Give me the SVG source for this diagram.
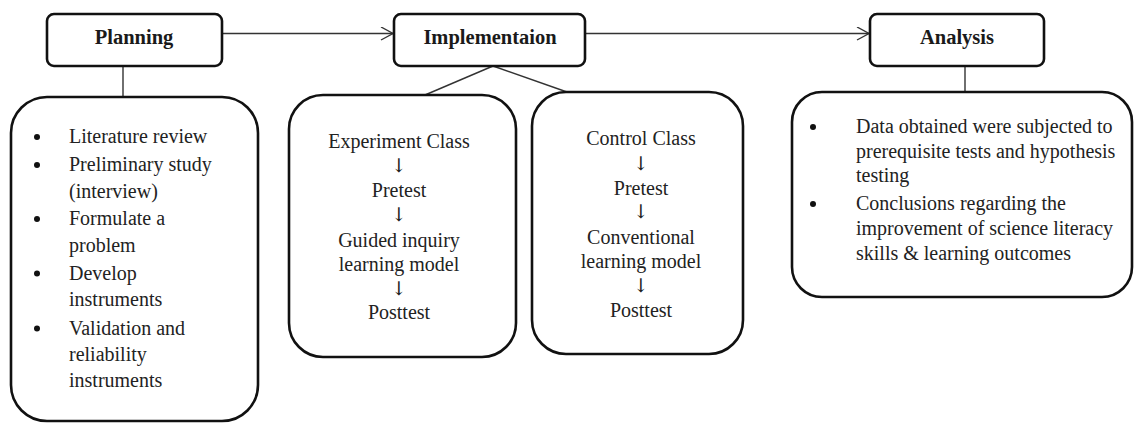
<svg xmlns="http://www.w3.org/2000/svg" width="1135" height="423" viewBox="0 0 1135 423">
  <style>
    .head { fill: #fff; stroke: #111; stroke-width: 2.6; }
    .panel { fill: #fff; stroke: #111; stroke-width: 2.6; }
    .link { fill: none; stroke: #333; stroke-width: 1.4; }
    .title { font-family: "Liberation Serif", "Times New Roman", serif; font-size: 20.5px; font-weight: bold; fill: #1a1a1a; text-anchor: middle; }
    .body { font-family: "Liberation Serif", "Times New Roman", serif; font-size: 20px; fill: #222; }
    .mid { text-anchor: middle; }
    .down { font-family: "DejaVu Serif", "DejaVu Sans", serif; font-size: 19px; fill: #222; text-anchor: middle; }
    .dot { fill: #111; }
  </style>
  <defs>
    <marker id="open" markerWidth="16" markerHeight="16" refX="13" refY="7" orient="auto" markerUnits="userSpaceOnUse">
      <path d="M1,0.5 L13,7 L1,13.5" fill="none" stroke="#333" stroke-width="1.4"/>
    </marker>
  </defs>

  <!-- connectors -->
  <g id="connectors">
    <line class="link" x1="222" y1="33.5" x2="393" y2="33.5" marker-end="url(#open)"/>
    <line class="link" x1="585" y1="33.5" x2="869" y2="33.5" marker-end="url(#open)"/>
    <line class="link" x1="123" y1="66" x2="123" y2="97"/>
    <line class="link" x1="965" y1="66" x2="965" y2="92"/>
    <line class="link" x1="493" y1="66" x2="425" y2="95"/>
    <line class="link" x1="493" y1="66" x2="567" y2="92"/>
  </g>

  <!-- stage headers -->
  <g id="planning">
    <rect class="head" x="47" y="14" width="175" height="52" rx="7"/>
    <text class="title" x="134" y="44">Planning</text>
  </g>
  <g id="implementation">
    <rect class="head" x="394" y="14" width="191" height="52" rx="7"/>
    <text class="title" x="490" y="44">Implementaion</text>
  </g>
  <g id="analysis">
    <rect class="head" x="870" y="14" width="174" height="52" rx="7"/>
    <text class="title" x="957" y="44">Analysis</text>
  </g>

  <!-- planning activities -->
  <g id="planning-steps">
    <rect class="panel" x="11" y="97" width="247" height="324" rx="36"/>
    <circle class="dot" cx="37" cy="137" r="3"/>
    <circle class="dot" cx="37" cy="165" r="3"/>
    <circle class="dot" cx="37" cy="219" r="3"/>
    <circle class="dot" cx="37" cy="273.5" r="3"/>
    <circle class="dot" cx="37" cy="328.5" r="3"/>
    <text class="body" x="69" y="143">Literature review</text>
    <text class="body" x="69" y="171">Preliminary study</text>
    <text class="body" x="69" y="197.5">(interview)</text>
    <text class="body" x="69" y="225">Formulate a</text>
    <text class="body" x="69" y="251.5">problem</text>
    <text class="body" x="69" y="279.5">Develop</text>
    <text class="body" x="69" y="306">instruments</text>
    <text class="body" x="69" y="334.5">Validation and</text>
    <text class="body" x="69" y="361">reliability</text>
    <text class="body" x="69" y="387">instruments</text>
  </g>

  <!-- experiment class sequence -->
  <g id="experiment-class">
    <rect class="panel" x="289" y="95" width="227" height="262" rx="34"/>
    <text class="body mid" x="399" y="148">Experiment Class</text>
    <text class="down" x="399" y="172">↓</text>
    <text class="body mid" x="399" y="197">Pretest</text>
    <text class="down" x="399" y="221">↓</text>
    <text class="body mid" x="399" y="247">Guided inquiry</text>
    <text class="body mid" x="399" y="271">learning model</text>
    <text class="down" x="399" y="295">↓</text>
    <text class="body mid" x="399" y="319">Posttest</text>
  </g>

  <!-- control class sequence -->
  <g id="control-class">
    <rect class="panel" x="532" y="92" width="211" height="262" rx="34"/>
    <text class="body mid" x="641" y="145">Control Class</text>
    <text class="down" x="641" y="170">↓</text>
    <text class="body mid" x="641" y="195">Pretest</text>
    <text class="down" x="641" y="218">↓</text>
    <text class="body mid" x="641" y="244">Conventional</text>
    <text class="body mid" x="641" y="268">learning model</text>
    <text class="down" x="641" y="292">↓</text>
    <text class="body mid" x="641" y="317">Posttest</text>
  </g>

  <!-- analysis activities -->
  <g id="analysis-steps">
    <rect class="panel" x="792" y="92" width="340" height="205" rx="30"/>
    <circle class="dot" cx="813" cy="127" r="3"/>
    <circle class="dot" cx="813" cy="204" r="3"/>
    <text class="body" x="856" y="133">Data obtained were subjected to</text>
    <text class="body" x="856" y="158">prerequisite tests and hypothesis</text>
    <text class="body" x="856" y="182">testing</text>
    <text class="body" x="856" y="210">Conclusions regarding the</text>
    <text class="body" x="856" y="235">improvement of science literacy</text>
    <text class="body" x="856" y="260">skills &amp; learning outcomes</text>
  </g>
</svg>
